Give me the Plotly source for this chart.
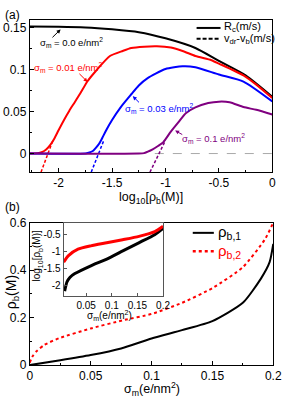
import plotly.graph_objects as go

# ---------------- Panel (a) data ----------------
a_black_x = [-2.27, -2.0, -1.75, -1.5, -1.25, -1.0, -0.72, -0.5, -0.25, 0.0]
a_black_y = [0.151, 0.1508, 0.150, 0.1477, 0.1443, 0.137, 0.1255, 0.1102, 0.093, 0.0675]

a_red_x = [-2.27, -2.2, -2.16, -2.12, -2.08, -2.04, -2.0, -1.95, -1.9, -1.86, -1.8, -1.73,
           -1.65, -1.52, -1.4, -1.32, -1.2, -1.08, -0.95, -0.84, -0.72, -0.57, -0.5, -0.27, -0.15, 0.0]
a_red_y = [0.0, 0.0005, 0.0015, 0.0045, 0.010, 0.018, 0.028, 0.040, 0.051, 0.059, 0.071, 0.086,
           0.0985, 0.116, 0.122, 0.1254, 0.127, 0.1275, 0.126, 0.122, 0.116, 0.111, 0.107, 0.093, 0.082, 0.066]

a_blue_x = [-2.27, -1.75, -1.72, -1.68, -1.65, -1.62, -1.59, -1.55, -1.5, -1.42, -1.32, -1.25,
            -1.17, -1.0, -0.84, -0.72, -0.5, -0.27, 0.0]
a_blue_y = [0.0, 0.0, 0.001, 0.003, 0.007, 0.012, 0.019, 0.029, 0.04, 0.055, 0.0705, 0.081,
            0.0894, 0.1005, 0.1038, 0.1027, 0.094, 0.0856, 0.062]

a_purple_x = [-2.27, -1.25, -1.2, -1.17, -1.12, -1.07, -1.02, -0.95, -0.88, -0.81, -0.72,
              -0.6, -0.5, -0.4, -0.27, -0.15, 0.0]
a_purple_y = [0.0, 0.0, 0.0005, 0.002, 0.005, 0.009, 0.0136, 0.026, 0.037, 0.048, 0.055,
              0.060, 0.0617, 0.061, 0.0553, 0.052, 0.0465]

# dashed v_dr - v_b tangents
a_red_dash_x = [-2.165, -2.05]
a_red_dash_y = [-0.022, 0.017]
a_blue_dash_x = [-1.695, -1.58]
a_blue_dash_y = [-0.022, 0.0148]
a_purple_dash_x = [-1.145, -1.0]
a_purple_dash_y = [-0.022, 0.0157]

a_zero_x = [-1.1, 0.0]
a_zero_y = [0.0, 0.0]

a_xticks = [-2, -1.5, -1, -0.5, 0]
a_xticktext = ["-2", "-1.5", "-1", "-0.5", "0"]
a_yticks = [0, 0.05, 0.1, 0.15]
a_yticktext = ["0", "0.05", "0.1", "0.15"]

# ---------------- Panel (b) data ----------------
b_black_x = [0.0, 0.025, 0.05, 0.075, 0.1, 0.125, 0.15, 0.175, 0.19, 0.197, 0.2]
b_black_y = [0.0, 0.02, 0.042, 0.07, 0.112, 0.147, 0.185, 0.262, 0.365, 0.433, 0.51]

b_red_x = [0.0, 0.002, 0.0055, 0.012, 0.024, 0.05, 0.076, 0.1, 0.125, 0.15, 0.175, 0.193, 0.2]
b_red_y = [0.01, 0.035, 0.058, 0.085, 0.113, 0.154, 0.188, 0.215, 0.262, 0.324, 0.412, 0.528, 0.6]

b_xticks = [0, 0.05, 0.1, 0.15, 0.2]
b_xticktext = ["0", "0.05", "0.1", "0.15", "0.2"]
b_yticks = [0, 0.2, 0.4, 0.6]
b_yticktext = ["0", "0.2", "0.4", "0.6"]

# inset
i_black_x = [0.0079, 0.0124, 0.0185, 0.0279, 0.0591, 0.0902, 0.1214, 0.1527, 0.1837, 0.2]
i_black_y = [-2.17, -1.9, -1.76, -1.65, -1.42, -1.22, -0.98, -0.74, -0.5, -0.31]
i_red_x = [0.006, 0.0154, 0.034, 0.059, 0.090, 0.121, 0.153, 0.184, 0.2]
i_red_y = [-1.31, -1.12, -0.93, -0.83, -0.74, -0.65, -0.55, -0.41, -0.25]

i_xticks = [0.05, 0.1, 0.15, 0.2]
i_xticktext = ["0.05", "0.1", "0.15", "0.2"]
i_yticks = [-2, -1.5, -1, -0.5]
i_yticktext = ["-2", "-1.5", "-1", "-0.5"]

W, H = 288, 402
FONT = "Liberation Sans, Arial, sans-serif"
RED = "#ff0000"
BLUE = "#0000ff"
PURPLE = "#800080"


def px(x):
    return x / W


def py(y):
    return 1 - y / H


fig = go.Figure()

# panel (a) traces
fig.add_trace(go.Scatter(x=a_zero_x, y=a_zero_y, mode="lines",
                         line=dict(color="#aaaaaa", width=1, dash="dash"), xaxis="x", yaxis="y"))
for xs, ys, c in [(a_red_dash_x, a_red_dash_y, RED), (a_blue_dash_x, a_blue_dash_y, BLUE),
                  (a_purple_dash_x, a_purple_dash_y, PURPLE)]:
    fig.add_trace(go.Scatter(x=xs, y=ys, mode="lines",
                             line=dict(color=c, width=1.5, dash="3px,2px"), xaxis="x", yaxis="y"))
for xs, ys, c in [(a_black_x, a_black_y, "black"), (a_red_x, a_red_y, RED),
                  (a_blue_x, a_blue_y, BLUE), (a_purple_x, a_purple_y, PURPLE)]:
    fig.add_trace(go.Scatter(x=xs, y=ys, mode="lines", line=dict(color=c, width=2, shape="spline",
                                                                 smoothing=0.6),
                             xaxis="x", yaxis="y"))

# panel (b) traces
fig.add_trace(go.Scatter(x=b_black_x, y=b_black_y, mode="lines",
                         line=dict(color="black", width=2, shape="spline", smoothing=0.6),
                         xaxis="x2", yaxis="y2"))
fig.add_trace(go.Scatter(x=b_red_x, y=b_red_y, mode="lines",
                         line=dict(color=RED, width=2, dash="dot", shape="spline", smoothing=0.6),
                         xaxis="x2", yaxis="y2"))

# inset traces
fig.add_trace(go.Scatter(x=i_black_x, y=i_black_y, mode="lines",
                         line=dict(color="black", width=3, shape="spline", smoothing=0.6),
                         xaxis="x3", yaxis="y3"))
fig.add_trace(go.Scatter(x=i_red_x, y=i_red_y, mode="lines",
                         line=dict(color=RED, width=3, shape="spline", smoothing=0.6),
                         xaxis="x3", yaxis="y3"))

tickfont = dict(family=FONT, size=12, color="black")
small_tickfont = dict(family=FONT, size=10, color="black")

axis_common = dict(showline=True, linecolor="black", linewidth=1, mirror=True, ticks="inside",
                   ticklen=4, tickcolor="black", showgrid=False, zeroline=False, tickfont=tickfont)

fig.update_layout(
    width=W, height=H, margin=dict(l=0, r=0, t=0, b=0),
    paper_bgcolor="white", plot_bgcolor="white", showlegend=False,
    font=dict(family=FONT, color="black"),
    xaxis=dict(domain=[px(28), px(281)], range=[-2.27, 0], anchor="y",
               tickvals=a_xticks, ticktext=a_xticktext,
               minor=dict(dtick=0.25, ticks="inside", ticklen=2, tickcolor="black"), **axis_common),
    yaxis=dict(domain=[py(171), py(13.3)], range=[-0.022, 0.159], anchor="x",
               tickvals=a_yticks, ticktext=a_yticktext,
               minor=dict(dtick=0.025, ticks="inside", ticklen=2, tickcolor="black"), **axis_common),
    xaxis2=dict(domain=[px(28), px(282)], range=[0, 0.2], anchor="y2",
                tickvals=b_xticks, ticktext=b_xticktext,
                minor=dict(dtick=0.025, ticks="inside", ticklen=2, tickcolor="black"), **axis_common),
    yaxis2=dict(domain=[py(371), py(223.3)], range=[0, 0.6], anchor="x2",
                tickvals=b_yticks, ticktext=b_yticktext,
                minor=dict(dtick=0.1, ticks="inside", ticklen=2, tickcolor="black"), **axis_common),
    xaxis3=dict(domain=[px(63.3), px(167)], range=[0.006, 0.2], anchor="y3",
                tickvals=i_xticks, ticktext=i_xticktext,
                showline=True, linecolor="#555555", linewidth=1, mirror=True, ticks="inside",
                ticklen=3, tickcolor="#555555", showgrid=False, zeroline=False,
                tickfont=small_tickfont),
    yaxis3=dict(domain=[py(299.3), py(223.3)], range=[-2.31, -0.14], anchor="x3",
                tickvals=i_yticks, ticktext=i_yticktext,
                showline=True, linecolor="#555555", linewidth=1, mirror=True, ticks="inside",
                ticklen=3, tickcolor="#555555", showgrid=False, zeroline=False,
                tickfont=small_tickfont),
)

shapes = [
    # legend (a)
    dict(type="line", xref="paper", yref="paper", x0=px(202), x1=px(227), y0=py(21.7), y1=py(21.7),
         line=dict(color="black", width=2)),
    dict(type="line", xref="paper", yref="paper", x0=px(202), x1=px(227), y0=py(33), y1=py(33),
         line=dict(color="black", width=2, dash="4px,2px")),
    # legend (b)
    dict(type="line", xref="paper", yref="paper", x0=px(198), x1=px(220), y0=py(234), y1=py(234),
         line=dict(color="black", width=2)),
    dict(type="line", xref="paper", yref="paper", x0=px(198), x1=px(220), y0=py(253), y1=py(253),
         line=dict(color=RED, width=2.5, dash="dot")),
]
fig.update_layout(shapes=shapes)

ann = []


def text(xp, yp, t, size, color="black", xanchor="center", angle=0):
    ann.append(dict(x=px(xp), y=py(yp), xref="paper", yref="paper", text=t, showarrow=False,
                    xanchor=xanchor, yanchor="middle", textangle=angle,
                    font=dict(family=FONT, size=size, color=color)))


text(10, 8, "(a)", 12)
text(10, 207, "(b)", 12)
text(154, 197.5, "log<sub>10</sub>[ρ<sub>b</sub>(M)]", 12.5)
text(155, 395.5, "σ<sub>m</sub>(e/nm<sup>2</sup>)", 12.5)
text(9, 296, "ρ<sub>b</sub>(M)", 14, angle=-90)
text(111, 320, "σ<sub>m</sub>(e/nm<sup>2</sup>)", 10)
text(36, 258, "log<sub>10</sub>[ρ<sub>b</sub>(M)]", 10, angle=-90)

text(229, 21, "R<sub>c</sub>(m/s)", 11, xanchor="left")
text(229, 33, "v<sub>dr</sub>-v<sub>b</sub>(m/s)", 11, xanchor="left")
text(222, 234, "ρ<sub>b,1</sub>", 15, xanchor="left")
text(222, 253, "ρ<sub>b,2</sub>", 15, color=RED, xanchor="left")

text(71, 37, "σ<sub>m</sub> = 0.0 e/nm<sup>2</sup>", 9.5)
text(68.5, 62.7, "σ<sub>m</sub> = 0.01 e/nm<sup>2</sup>", 9.5, color=RED)
text(163.5, 105, "σ<sub>m</sub> = 0.03 e/nm<sup>2</sup>", 9.5, color=BLUE)
text(220, 136.7, "σ<sub>m</sub> = 0.1 e/nm<sup>2</sup>", 9.5, color=PURPLE)

# arrows (tail -> tip) in data coords of panel (a)
for (tx, ty, hx, hy, c) in [(-2.072, 0.1364, -1.982, 0.1476, "black"),
                            (-1.82, 0.0966, -1.73, 0.0852, RED),
                            (-1.234, 0.0591, -1.306, 0.0682, BLUE),
                            (-0.829, 0.0216, -0.91, 0.0273, PURPLE)]:
    ann.append(dict(x=hx, y=hy, xref="x", yref="y", ax=tx, ay=ty, axref="x", ayref="y",
                    text="", showarrow=True, arrowhead=2, arrowsize=0.8, arrowwidth=1,
                    arrowcolor=c))

fig.update_layout(annotations=ann)

fig.write_html("out.html")
